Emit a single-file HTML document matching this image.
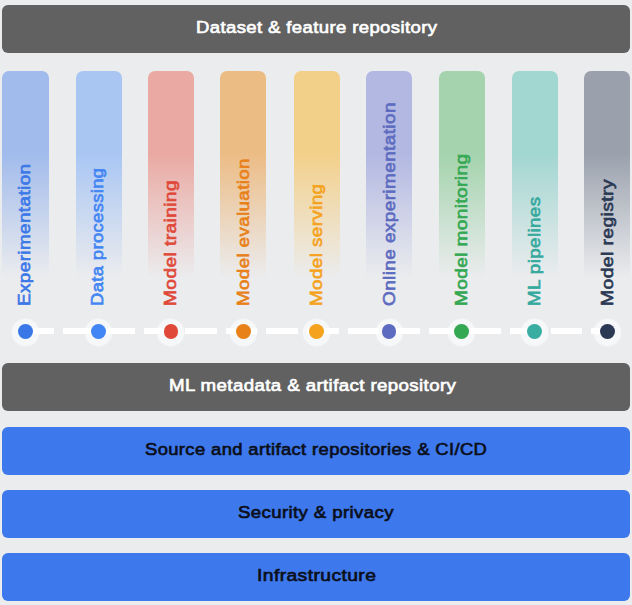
<!DOCTYPE html>
<html><head><meta charset="utf-8"><title>MLOps capabilities</title>
<style>
html,body{margin:0;padding:0;}
body{width:632px;height:605px;background:#ebecee;position:relative;overflow:hidden;font-family:"Liberation Sans",sans-serif;}
.bar{position:absolute;left:2.3px;width:627.7px;height:48px;border-radius:6px;font-weight:normal;-webkit-text-stroke:0.65px;font-size:16.8px;line-height:45.0px;letter-spacing:0.35px;white-space:nowrap;}
.bar span{position:absolute;top:0;display:inline-block;transform-origin:0 50%;}
.gray{background:#616161;color:#fff;}
.blue{background:#3d78ec;color:#0b0f1a;}
.col{position:absolute;top:71.4px;height:235px;border-radius:7px 7px 0 0;}
.lbl{position:absolute;white-space:nowrap;font-weight:normal;-webkit-text-stroke:0.65px;font-size:16.8px;line-height:20px;height:20px;letter-spacing:0.35px;transform-origin:0 0;}
.halo{position:absolute;width:29px;height:29px;border-radius:50%;background:radial-gradient(circle closest-side,#f6f7f9 0,#f6f7f9 90%,#f6f7f900 100%);}
.dot{position:absolute;width:14.8px;height:14.8px;border-radius:50%;}
.dash{position:absolute;top:327.55px;height:6.8px;background:#fff;}
</style></head><body>
<div class="bar gray" style="top:5px"><span id="t1" style="left:193.80px;transform:scaleX(1.1033)">Dataset &amp; feature repository</span></div>

<div class="col" style="left:2.40px;width:46.50px;background:linear-gradient(to bottom,#a1bbec 0%,#a1bbec 35%,#a1bbec00 88%)"></div>
<div class="col" style="left:75.70px;width:46.30px;background:linear-gradient(to bottom,#a9c6f3 0%,#a9c6f3 35%,#a9c6f300 88%)"></div>
<div class="col" style="left:147.90px;width:46.50px;background:linear-gradient(to bottom,#eaa9a2 0%,#eaa9a2 35%,#eaa9a200 88%)"></div>
<div class="col" style="left:220.10px;width:46.10px;background:linear-gradient(to bottom,#ecbc85 0%,#ecbc85 35%,#ecbc8500 88%)"></div>
<div class="col" style="left:293.60px;width:46.40px;background:linear-gradient(to bottom,#f3d08a 0%,#f3d08a 35%,#f3d08a00 88%)"></div>
<div class="col" style="left:366.10px;width:46.10px;background:linear-gradient(to bottom,#b2b8e2 0%,#b2b8e2 35%,#b2b8e200 88%)"></div>
<div class="col" style="left:439.20px;width:46.20px;background:linear-gradient(to bottom,#a4d3ad 0%,#a4d3ad 35%,#a4d3ad00 88%)"></div>
<div class="col" style="left:511.60px;width:46.00px;background:linear-gradient(to bottom,#a2d6d1 0%,#a2d6d1 35%,#a2d6d100 88%)"></div>
<div class="col" style="left:584.10px;width:46.00px;background:linear-gradient(to bottom,#9aa1ad 0%,#9aa1ad 35%,#9aa1ad00 88%)"></div>
<div class="halo" style="left:10.95px;top:317.50px"></div>
<div class="halo" style="left:83.68px;top:317.50px"></div>
<div class="halo" style="left:156.41px;top:317.50px"></div>
<div class="halo" style="left:229.14px;top:317.50px"></div>
<div class="halo" style="left:301.87px;top:317.50px"></div>
<div class="halo" style="left:374.60px;top:317.50px"></div>
<div class="halo" style="left:447.33px;top:317.50px"></div>
<div class="halo" style="left:520.06px;top:317.50px"></div>
<div class="halo" style="left:592.79px;top:317.50px"></div>
<div class="dash" style="left:22.35px;width:31.65px"></div>
<div class="dash" style="left:63.00px;width:31.65px"></div>
<div class="dash" style="left:103.65px;width:31.65px"></div>
<div class="dash" style="left:144.30px;width:31.65px"></div>
<div class="dash" style="left:184.95px;width:31.65px"></div>
<div class="dash" style="left:225.60px;width:31.65px"></div>
<div class="dash" style="left:266.25px;width:31.65px"></div>
<div class="dash" style="left:306.90px;width:31.65px"></div>
<div class="dash" style="left:347.55px;width:31.65px"></div>
<div class="dash" style="left:388.20px;width:31.65px"></div>
<div class="dash" style="left:428.85px;width:31.65px"></div>
<div class="dash" style="left:469.50px;width:31.65px"></div>
<div class="dash" style="left:510.15px;width:31.65px"></div>
<div class="dash" style="left:550.80px;width:31.65px"></div>
<div class="dash" style="left:591.45px;width:15.55px"></div>
<div class="dot" style="left:18.05px;top:324.40px;background:#3b78e7"></div>
<div class="dot" style="left:90.78px;top:324.40px;background:#4285f4"></div>
<div class="dot" style="left:163.51px;top:324.40px;background:#e0493a"></div>
<div class="dot" style="left:236.24px;top:324.40px;background:#e8811a"></div>
<div class="dot" style="left:308.97px;top:324.40px;background:#f5a31f"></div>
<div class="dot" style="left:381.70px;top:324.40px;background:#5c6bc0"></div>
<div class="dot" style="left:454.43px;top:324.40px;background:#34a853"></div>
<div class="dot" style="left:527.16px;top:324.40px;background:#3aada3"></div>
<div class="dot" style="left:599.89px;top:324.40px;background:#2b3954"></div>
<div class="lbl" id="v0" style="left:15.48px;top:306.4px;color:#3b78e7;transform:rotate(-90deg) scaleX(1.1260)">Experimentation</div>
<div class="lbl" id="v1" style="left:88.48px;top:306.4px;color:#4285f4;transform:rotate(-90deg) scaleX(1.0944)">Data processing</div>
<div class="lbl" id="v2" style="left:160.78px;top:306.4px;color:#e0493a;transform:rotate(-90deg) scaleX(1.1420)">Model training</div>
<div class="lbl" id="v3" style="left:234.38px;top:306.4px;color:#e8811a;transform:rotate(-90deg) scaleX(1.1167)">Model evaluation</div>
<div class="lbl" id="v4" style="left:307.18px;top:306.4px;color:#f5a31f;transform:rotate(-90deg) scaleX(1.1234)">Model serving</div>
<div class="lbl" id="v5" style="left:380.48px;top:306.4px;color:#5c6bc0;transform:rotate(-90deg) scaleX(1.1310)">Online experimentation</div>
<div class="lbl" id="v6" style="left:452.48px;top:306.4px;color:#34a853;transform:rotate(-90deg) scaleX(1.1349)">Model monitoring</div>
<div class="lbl" id="v7" style="left:525.48px;top:306.4px;color:#35a99e;transform:rotate(-90deg) scaleX(1.1195)">ML pipelines</div>
<div class="lbl" id="v8" style="left:598.48px;top:306.4px;color:#2b3954;transform:rotate(-90deg) scaleX(1.1513)">Model registry</div>
<div class="bar gray" style="top:363.2px"><span id="t2" style="left:166.60px;transform:scaleX(1.1132)">ML metadata &amp; artifact repository</span></div>
<div class="bar blue" style="top:426.6px"><span id="t3" style="left:142.80px;transform:scaleX(1.0953)">Source and artifact repositories &amp; CI/CD</span></div>
<div class="bar blue" style="top:489.7px"><span id="t4" style="left:235.80px;transform:scaleX(1.1084)">Security &amp; privacy</span></div>
<div class="bar blue" style="top:552.7px"><span id="t5" style="left:254.30px;transform:scaleX(1.1495)">Infrastructure</span></div>
</body></html>
